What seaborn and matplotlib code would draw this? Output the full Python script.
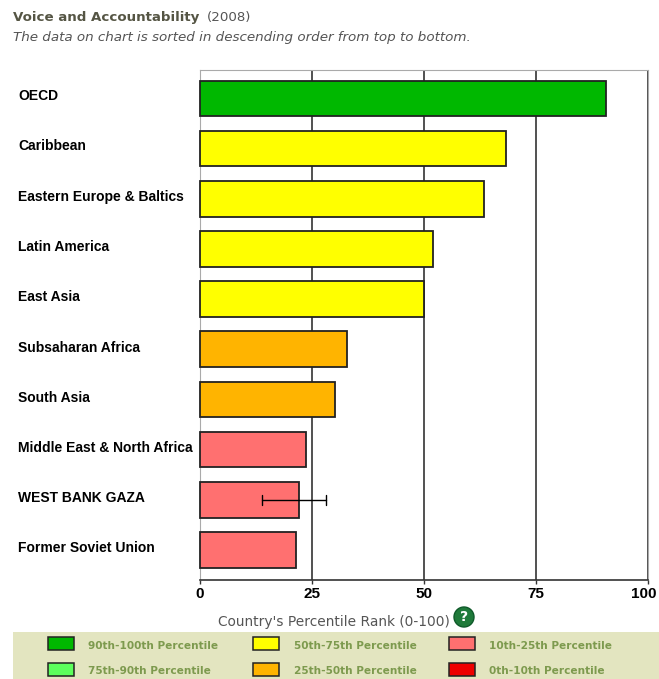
import pandas as pd
import matplotlib
matplotlib.use('Agg')
import matplotlib.pyplot as plt
from matplotlib.patches import Rectangle, Circle
from matplotlib.transforms import ScaledTranslation
import seaborn as sns

# Values
regions = ['OECD', 'Caribbean', 'Eastern Europe & Baltics', 'Latin America', 'East Asia',
           'Subsaharan Africa', 'South Asia', 'Middle East & North Africa',
           'WEST BANK GAZA', 'Former Soviet Union']
ranks = [90.6, 68.3, 63.4, 52.0, 50.0, 32.8, 30.1, 23.7, 22.2, 21.4]
bands = ['90-100', '50-75', '50-75', '50-75', '50-75', '25-50', '25-50', '10-25', '10-25', '10-25']
err_region = 'WEST BANK GAZA'
err_low = 13.8
err_high = 28.1
x_ticks = [0, 25, 50, 75, 100]

band_colors = {'90-100': '#00b800', '75-90': '#5cff5c', '50-75': '#ffff00',
               '25-50': '#ffb400', '10-25': '#ff7070', '0-10': '#ee0000'}
legend_rows = [('90th-100th Percentile', '90-100', 48, 88, 643),
               ('75th-90th Percentile', '75-90', 48, 88, 668.5),
               ('50th-75th Percentile', '50-75', 253, 294, 643),
               ('25th-50th Percentile', '25-50', 253, 294, 668.5),
               ('10th-25th Percentile', '10-25', 449, 489, 643),
               ('0th-10th Percentile', '0-10', 449, 489, 668.5)]

W, H = 659, 679
data = pd.DataFrame({'region': regions, 'rank': ranks, 'band': bands})

sns.set_style('white')
fig = plt.figure(figsize=(W / 100, H / 100), dpi=100)
ax = fig.add_axes([200 / W, 1 - 580 / H, 448 / W, 510 / H])

sns.barplot(data=data, x='rank', y='region', hue='band', palette=band_colors, dodge=False,
            legend=False, width=0.71, saturation=1, edgecolor='#222222', linewidth=1.3, ax=ax, zorder=3)
for bar in ax.patches:
    bar.set_clip_on(False)
ax.set_xlim(0, 100)
ax.set_ylim(9.6, -0.567)

# vertical grid lines sit behind the bars
ax.set_axisbelow(True)
ax.xaxis.grid(True, color='#333333', linewidth=1.2, zorder=0)
ax.yaxis.grid(False)

# error bar on the highlighted region
err_y = regions.index(err_region)
ax.plot([err_low, err_high], [err_y, err_y], color='black', linewidth=1, zorder=5)
ax.plot([err_low, err_low], [err_y - 0.1, err_y + 0.1], color='black', linewidth=1, zorder=5)
ax.plot([err_high, err_high], [err_y - 0.1, err_y + 0.1], color='black', linewidth=1, zorder=5)

for side in ['top', 'left', 'right']:
    ax.spines[side].set_color('#aaaaaa')
ax.spines['bottom'].set_color('#333333')
ax.spines['bottom'].set_linewidth(1.2)

ax.set_xticks(x_ticks)
ax.set_xticklabels([str(t) for t in x_ticks], fontfamily='Liberation Sans',
                   fontweight='bold', fontsize=11, color='black')
ax.tick_params(axis='x', length=3, width=1, color='#333333', pad=2, bottom=True)
ax.set_xlabel('')
ax.set_ylabel('')
ax.set_yticks([])

# keep the last tick label inside the figure
last = ax.get_xticklabels()[-1]
last.set_transform(last.get_transform() + ScaledTranslation(-4 / 100, 0, fig.dpi_scale_trans))

# region names are left aligned in the margin
label_y = [96, 146, 197, 247, 297, 348, 398, 448, 498, 548]
for name, py in zip(regions, label_y):
    fig.text(18 / W, 1 - py / H, name, fontfamily='Liberation Sans', fontweight='bold',
             fontsize=10, color='black', va='center', ha='left')

# headings
fig.text(13 / W, 1 - 17 / H, 'Voice and Accountability', fontfamily='DejaVu Sans',
         fontweight='bold', fontsize=9.6, color='#555544', va='center')
fig.text(207 / W, 1 - 17 / H, '(2008)', fontfamily='DejaVu Sans', fontsize=9.6, color='#555555', va='center')
fig.text(13 / W, 1 - 37 / H, 'The data on chart is sorted in descending order from top to bottom.',
         fontfamily='DejaVu Sans', fontstyle='italic', fontsize=9.7, color='#555555', va='center')

# axis label and help icon
fig.text(334 / W, 1 - 622 / H, "Country's Percentile Rank (0-100)", fontfamily='DejaVu Sans',
         fontsize=9.9, color='#555555', ha='center', va='center')
fig.patches.append(Circle((464, H - 617), 10, transform=None, facecolor='#1f7a3a', edgecolor='#0f5a2a'))
fig.text(464 / W, 1 - 617 / H, '?', fontfamily='DejaVu Sans', fontweight='bold', fontsize=10,
         color='white', ha='center', va='center')

# legend panel
fig.patches.append(Rectangle((13 / W, 0), 646 / W, 47 / H, transform=fig.transFigure,
                             facecolor='#e3e5c0', edgecolor='none', zorder=0))
for label, band, sx, tx, sy in legend_rows:
    fig.patches.append(Rectangle((sx / W, 1 - (sy + 7) / H), 26 / W, 13 / H, transform=fig.transFigure,
                                 facecolor=band_colors[band], edgecolor='#222222', linewidth=1.1, zorder=2))
    fig.text(tx / W, 1 - (sy + 3) / H, label, fontfamily='DejaVu Sans', fontweight='bold',
             fontsize=7.6, color='#7d9a4e', va='center', zorder=3)

fig.savefig('out.png', dpi=100)
